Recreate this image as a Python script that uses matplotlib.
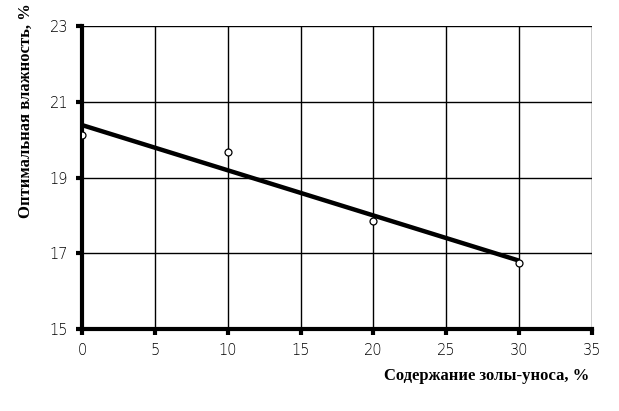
import numpy as np
import matplotlib.pyplot as plt

# Data
ash_content = [0, 10, 20, 30]
moisture = [20.12, 19.67, 17.84, 16.75]
x_ticks = [0, 5, 10, 15, 20, 25, 30, 35]
y_ticks = [15, 17, 19, 21, 23]

# Linear trend
slope, intercept = np.polyfit(ash_content, moisture, 1)
trend_x = np.array([ash_content[0], ash_content[-1]])
trend_y = slope * trend_x + intercept

fig = plt.figure(figsize=(6.19, 4.11), dpi=100)
ax = fig.add_axes([0.1325, 0.1995, 0.824, 0.737])

ax.plot(trend_x, trend_y, color='black', lw=3.2, solid_capstyle='butt', zorder=3)
ax.plot(ash_content, moisture, 'o', ms=5, mfc='white', mec='black', mew=0.9, zorder=4)

ax.set_xlim(0, 35)
ax.set_ylim(15, 23)
ax.set_xticks(x_ticks)
ax.set_yticks(y_ticks)
ax.grid(True, color='black', lw=1.0)
ax.set_axisbelow(True)

for side in ['top', 'right']:
    ax.spines[side].set_visible(False)
for side in ['left', 'bottom']:
    ax.spines[side].set_linewidth(3)

ax.tick_params(direction='out', length=4, width=3, labelsize=10.5, pad=6)
for lbl in ax.get_xticklabels() + ax.get_yticklabels():
    lbl.set_fontfamily('DejaVu Sans')
    lbl.set_fontweight('light')

ax.set_xlabel("Содержание золы-уноса, %", family='Liberation Serif',
              fontweight='bold', fontsize=12)
ax.xaxis.set_label_coords(0.995, -0.13)
ax.xaxis.label.set_ha('right')

ax.set_ylabel("Оптимальная влажность, %", family='Liberation Serif',
              fontweight='bold', fontsize=12)
ax.yaxis.set_label_coords(-0.095, 0.72)

fig.savefig("out.png", dpi=100)
